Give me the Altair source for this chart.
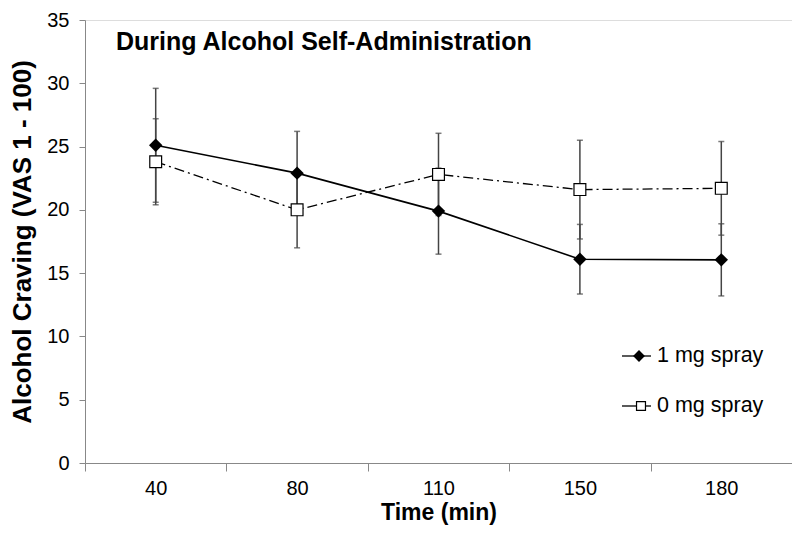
import altair as alt
import pandas as pd

times = ["40", "80", "110", "150", "180"]
series_names = ["1 mg spray", "0 mg spray"]
mean_1mg = [25.1, 22.9, 19.9, 16.1, 16.05]
err_1mg = [4.5, 3.3, 3.4, 2.75, 2.85]
mean_0mg = [23.8, 20.0, 22.8, 21.6, 21.7]
err_0mg = [3.4, 3.0, 3.25, 3.9, 3.7]
y_ticks = [0, 5, 10, 15, 20, 25, 30, 35]

rows = []
for name, means, errs in [(series_names[0], mean_1mg, err_1mg), (series_names[1], mean_0mg, err_0mg)]:
    for t, m, e in zip(times, means, errs):
        rows.append({"time": t, "series": name, "mean": m, "lo": m - e, "hi": m + e})
df = pd.DataFrame(rows)

FONT = "Liberation Sans"
W, H = 707, 443

xenc = alt.X(
    "time:N", sort=times,
    scale=alt.Scale(type="band", paddingInner=0, paddingOuter=0),
    axis=alt.Axis(title="Time (min)", labelAngle=0, tickBand="extent", tickSize=8,
                  labelPadding=7, titlePadding=3, labelFontSize=20, titleFontSize=23,
                  titleFontWeight="bold", domainColor="#888888", tickColor="#888888",
                  labelColor="black", titleColor="black", labelFont=FONT, titleFont=FONT),
)
yscale = alt.Scale(domain=[0, 35], nice=False)
yaxis = alt.Axis(title="Alcohol Craving (VAS 1 - 100)", values=y_ticks, tickSize=6,
                 labelPadding=10, titlePadding=11, labelFontSize=20, titleFontSize=26,
                 titleFontWeight="bold", domainColor="#888888", tickColor="#888888",
                 labelColor="black", titleColor="black", labelFont=FONT, titleFont=FONT,
                 grid=False)

base = alt.Chart(df)

err_rule = base.mark_rule(color="#444444", strokeWidth=1.5).encode(
    x=xenc, y=alt.Y("lo:Q", scale=yscale, axis=yaxis), y2="hi:Q")
cap_lo = base.mark_tick(color="#444444", size=6, thickness=1.5).encode(
    x=xenc, y=alt.Y("lo:Q", scale=yscale))
cap_hi = base.mark_tick(color="#444444", size=6, thickness=1.5).encode(
    x=xenc, y=alt.Y("hi:Q", scale=yscale))

line1 = base.transform_filter(alt.datum.series == series_names[0]).mark_line(
    color="black", strokeWidth=1.6).encode(x=xenc, y=alt.Y("mean:Q", scale=yscale))
line0 = base.transform_filter(alt.datum.series == series_names[1]).mark_line(
    color="black", strokeWidth=1.3, strokeDash=[10, 4, 2, 4]).encode(
    x=xenc, y=alt.Y("mean:Q", scale=yscale))
pts1 = base.transform_filter(alt.datum.series == series_names[0]).mark_point(
    shape="diamond", filled=True, color="black", size=180, opacity=1).encode(
    x=xenc, y=alt.Y("mean:Q", scale=yscale))
pts0 = base.transform_filter(alt.datum.series == series_names[1]).mark_point(
    shape="square", filled=True, fill="white", stroke="black", strokeWidth=1.2,
    size=140, opacity=1).encode(x=xenc, y=alt.Y("mean:Q", scale=yscale))

title = alt.Chart(pd.DataFrame({"t": ["During Alcohol Self-Administration"]})).mark_text(
    align="left", baseline="middle", font=FONT, fontSize=25, fontWeight="bold",
    color="black").encode(x=alt.value(31), y=alt.value(22), text="t:N")

leg_df = pd.DataFrame({"name": series_names})
leg_y = [336, 386]
legend_layers = []
for i, nm in enumerate(series_names):
    d = alt.Chart(leg_df).transform_filter(alt.datum.name == nm)
    legend_layers.append(d.mark_rule(color="black", strokeWidth=1.3).encode(
        x=alt.value(537), x2=alt.value(566), y=alt.value(leg_y[i])))
    if i == 0:
        legend_layers.append(d.mark_point(shape="diamond", filled=True, color="black",
                                          size=140, opacity=1).encode(
            x=alt.value(554), y=alt.value(leg_y[i])))
    else:
        legend_layers.append(d.mark_point(shape="square", filled=True, fill="white",
                                          stroke="black", strokeWidth=1.2, size=80,
                                          opacity=1).encode(
            x=alt.value(556), y=alt.value(leg_y[i])))
    legend_layers.append(d.mark_text(align="left", baseline="middle", font=FONT,
                                     fontSize=21.5, color="black").encode(
        x=alt.value(572), y=alt.value(leg_y[i]), text="name:N"))

chart = alt.layer(err_rule, cap_lo, cap_hi, line1, line0, pts1, pts0, title,
                  *legend_layers).properties(
    width=W, height=H,
    autosize=alt.AutoSizeParams(type="none"),
    padding={"left": 77, "top": 12, "right": 0, "bottom": 68},
).configure_view(stroke=None).configure(background="white")

chart.save("out.html", embed_options={"renderer": "svg", "actions": False})
